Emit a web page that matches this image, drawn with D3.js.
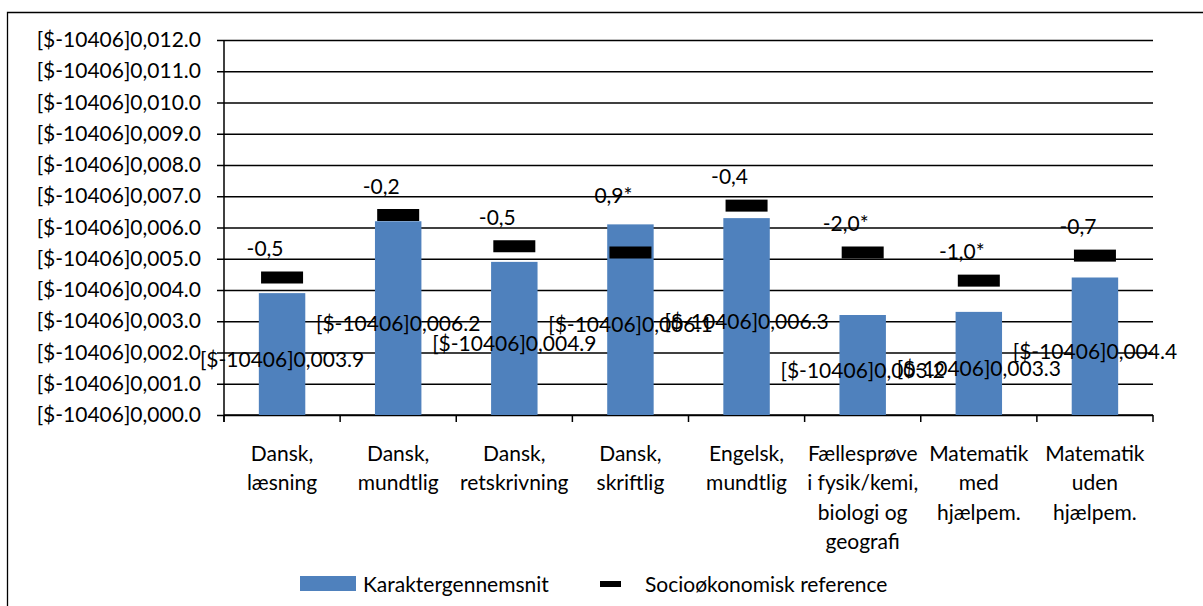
<!DOCTYPE html>
<html>
<head>
<meta charset="utf-8">
<script src="https://cdn.jsdelivr.net/npm/d3@7"></script>
<style>
  body { margin: 0; background: #fff; }
  text { font-family: Lato, "Liberation Sans", sans-serif; font-size: 21px; fill: #000; }
</style>
</head>
<body>
<svg id="chart" width="1203" height="606"></svg>
<script>
// Subjects (each entry is the wrapped label lines)
const categories = [
  ["Dansk,", "læsning"],
  ["Dansk,", "mundtlig"],
  ["Dansk,", "retskrivning"],
  ["Dansk,", "skriftlig"],
  ["Engelsk,", "mundtlig"],
  ["Fællesprøve", "i fysik/kemi,", "biologi og", "geografi"],
  ["Matematik", "med", "hjælpem."],
  ["Matematik", "uden", "hjælpem."]
];
// Grade average per subject
const averages = [3.9, 6.2, 4.9, 6.1, 6.3, 3.2, 3.3, 4.4];
// Socio-economic reference per subject
const references = [4.4, 6.4, 5.4, 5.2, 6.7, 5.2, 4.3, 5.1];
// Difference to the reference, and whether it is significant (*)
const differences = [-0.5, -0.2, -0.5, 0.9, -0.4, -2.0, -1.0, -0.7];
const significant = [false, false, false, true, false, true, true, false];
// Value axis
const yTickValues = [0, 1, 2, 3, 4, 5, 6, 7, 8, 9, 10, 11, 12];
const yTickLabels = [
  "[$-10406]0,000.0", "[$-10406]0,001.0", "[$-10406]0,002.0", "[$-10406]0,003.0",
  "[$-10406]0,004.0", "[$-10406]0,005.0", "[$-10406]0,006.0", "[$-10406]0,007.0",
  "[$-10406]0,008.0", "[$-10406]0,009.0", "[$-10406]0,010.0", "[$-10406]0,011.0",
  "[$-10406]0,012.0"
];
const seriesNames = ["Karaktergennemsnit", "Socioøkonomisk reference"];

const barColor = "#4F81BD";
const svg = d3.select("#chart");

// frame around the chart object
svg.append("path")
  .attr("d", "M7.5,606V12.5H1203")
  .attr("fill", "none").attr("stroke", "#000").attr("stroke-width", 1.3);

const plot = { left: 224, right: 1153, top: 40, bottom: 415 };
const idx = categories.map((c, i) => i);

const x = d3.scaleBand().domain(idx).range([plot.left, plot.right]).padding(0);
const y = d3.scaleLinear().domain([0, 12]).range([plot.bottom, plot.top]);

// horizontal gridlines
svg.append("g")
  .attr("transform", `translate(${plot.left},0)`)
  .call(d3.axisLeft(y).tickValues(yTickValues).tickSize(-(plot.right - plot.left)).tickFormat(""))
  .call(g => g.select(".domain").remove())
  .call(g => g.selectAll("line").attr("stroke", "#000").attr("stroke-width", 1.5));

// value axis with tick labels
svg.append("g")
  .attr("transform", `translate(${plot.left},0)`)
  .call(d3.axisLeft(y).tickValues(yTickValues).tickSize(7).tickPadding(16)
    .tickFormat((d, i) => yTickLabels[i]))
  .call(g => g.select(".domain").attr("d", `M0,${plot.top}V${plot.bottom + 7}`))
  .call(g => g.selectAll("line,.domain").attr("stroke", "#000").attr("stroke-width", 1.5))
  .call(g => g.selectAll("text").attr("font-family", null).attr("font-size", null).attr("fill", "#000"));

// category axis: baseline and boundary ticks
const boundaries = idx.map(i => x(i)).concat([plot.right]);
const xAxis = svg.append("g");
xAxis.append("line")
  .attr("x1", plot.left).attr("x2", plot.right)
  .attr("y1", y(0)).attr("y2", y(0))
  .attr("stroke", "#000").attr("stroke-width", 1.5);
xAxis.selectAll("line.tick").data(boundaries).join("line")
  .attr("class", "tick")
  .attr("x1", d => d).attr("x2", d => d)
  .attr("y1", y(0)).attr("y2", y(0) + 7)
  .attr("stroke", "#000").attr("stroke-width", 1.5);

// category labels
xAxis.selectAll("text.cat").data(categories).join("text")
  .attr("class", "cat")
  .attr("text-anchor", "middle")
  .each(function (lines, i) {
    const t = d3.select(this);
    lines.forEach((line, k) => {
      t.append("tspan")
        .attr("x", x(i) + x.bandwidth() / 2)
        .attr("y", 452 + k * 29.5)
        .attr("dominant-baseline", "central")
        .text(line);
    });
  });

// bars
const barW = x.bandwidth() * 0.4;
const cx = i => x(i) + x.bandwidth() / 2;
svg.append("g").selectAll("rect").data(averages).join("rect")
  .attr("x", (d, i) => cx(i) - barW / 2)
  .attr("width", barW)
  .attr("y", d => y(d))
  .attr("height", d => y(0) - y(d))
  .attr("fill", barColor);

// reference markers
const markW = 42, markH = 12;
svg.append("g").selectAll("rect").data(references).join("rect")
  .attr("x", (d, i) => cx(i) - markW / 2)
  .attr("y", d => y(d) - markH / 2)
  .attr("width", markW)
  .attr("height", markH)
  .attr("fill", "#000");

// bar value labels (centred in the bar)
svg.append("g").selectAll("text").data(averages).join("text")
  .attr("x", (d, i) => cx(i))
  .attr("y", d => y(d / 2) + 4)
  .attr("text-anchor", "middle")
  .attr("dominant-baseline", "central")
  .text(d => `[$-10406]0,00${d.toFixed(1)}`);

// difference labels above the higher of bar and marker
svg.append("g").selectAll("text").data(differences).join("text")
  .attr("x", (d, i) => cx(i) - 17)
  .attr("y", (d, i) => y(Math.max(averages[i], references[i])) - 30)
  .attr("text-anchor", "middle")
  .attr("dominant-baseline", "central")
  .text((d, i) => d.toFixed(1).replace(".", ",") + (significant[i] ? "*" : ""));

// legend
const legend = svg.append("g");
legend.append("rect").attr("x", 300).attr("y", 576).attr("width", 56).attr("height", 15).attr("fill", barColor);
legend.append("text").attr("x", 363).attr("y", 583).attr("dominant-baseline", "central").text(seriesNames[0]);
legend.append("rect").attr("x", 600).attr("y", 581).attr("width", 21).attr("height", 6).attr("fill", "#000");
legend.append("text").attr("x", 645).attr("y", 583).attr("dominant-baseline", "central").text(seriesNames[1]);
</script>
</body>
</html>
